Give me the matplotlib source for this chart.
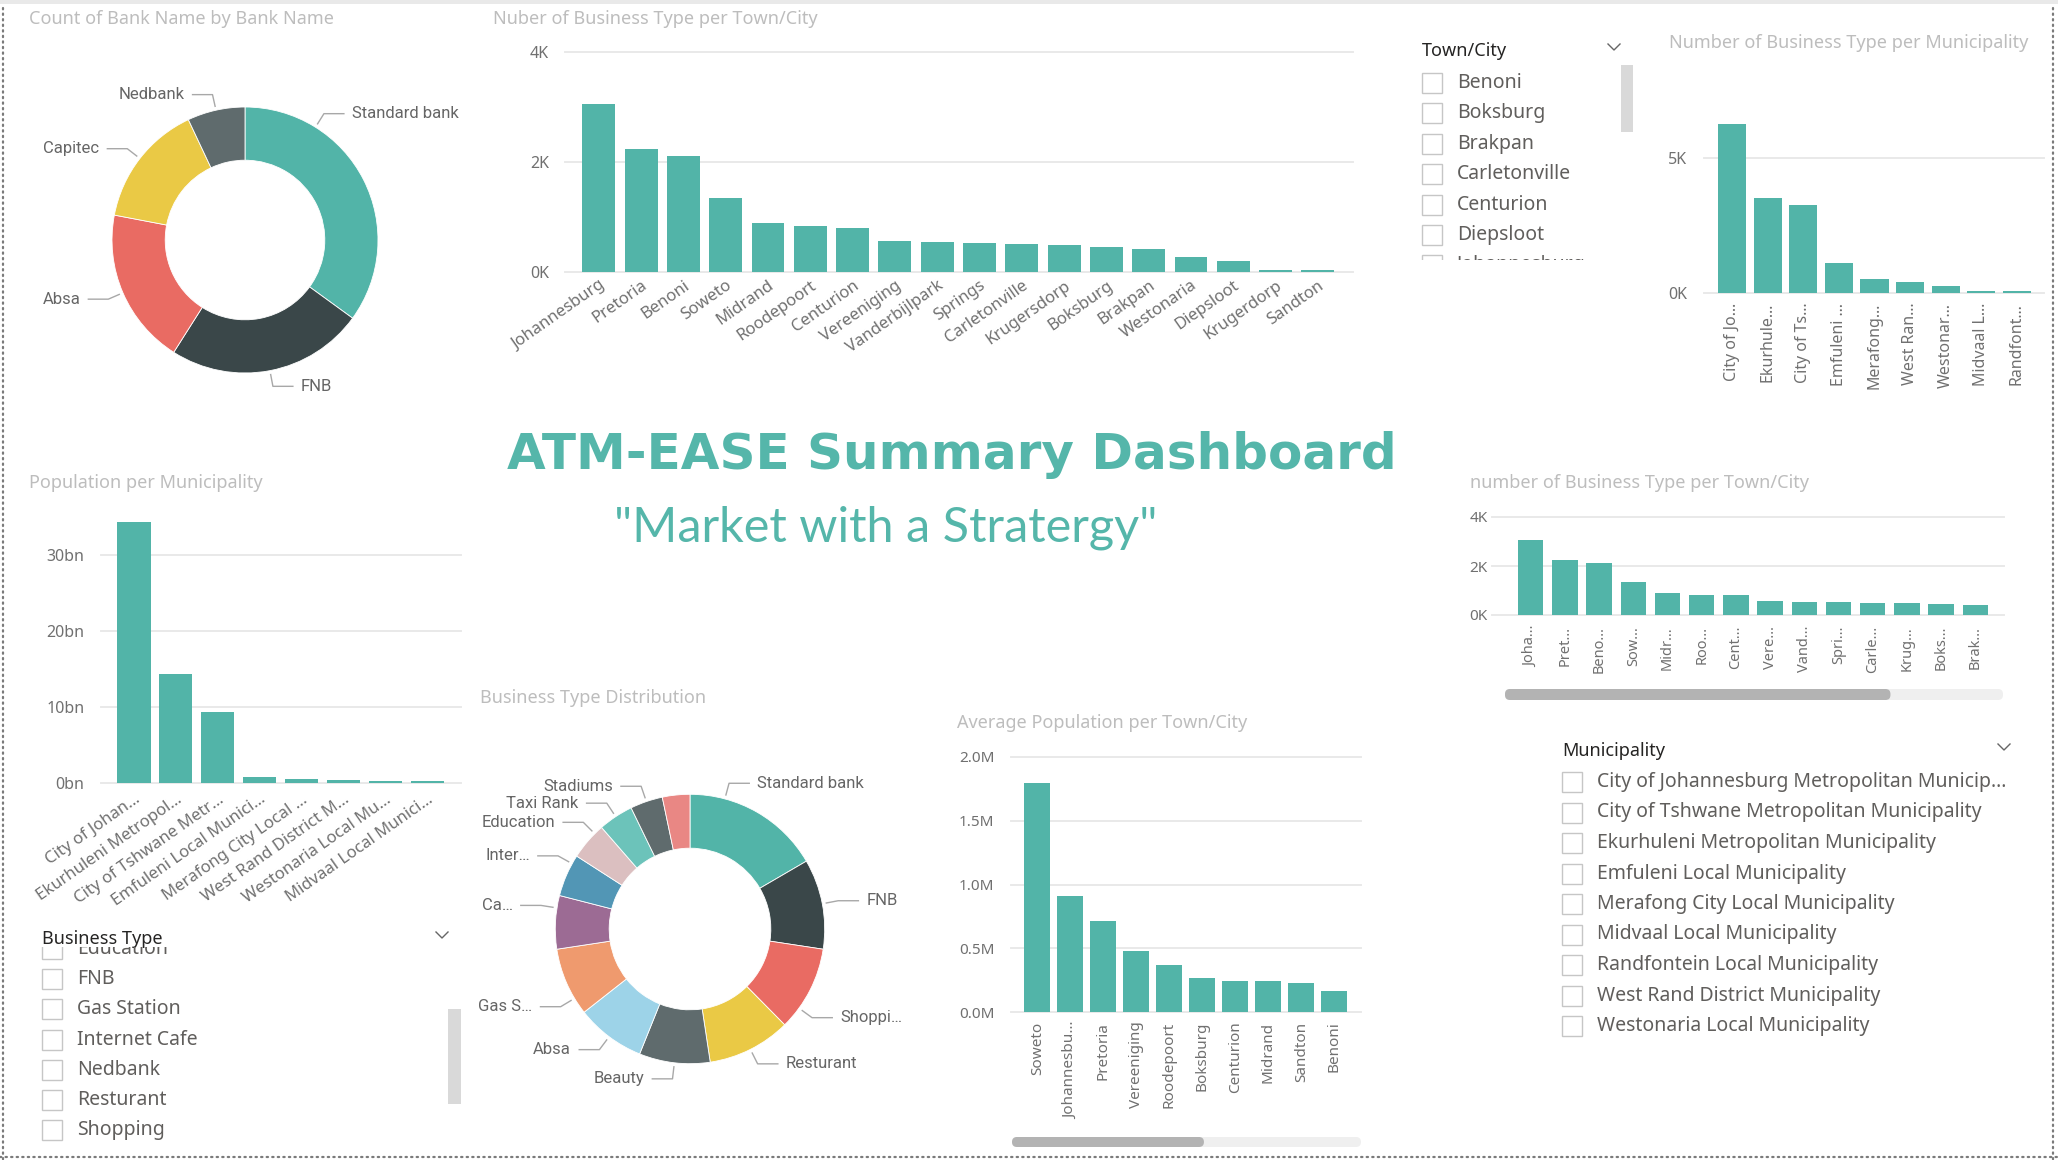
import matplotlib
matplotlib.use('Agg')
import matplotlib.pyplot as plt
import numpy as np
from matplotlib.patches import Rectangle, FancyBboxPatch
from matplotlib.ticker import FuncFormatter

# ------------------------------------------------------------------ data
bank_names = ['Standard bank', 'FNB', 'Absa', 'Capitec', 'Nedbank']
bank_counts = [35, 24, 19, 15, 7]

towns = ['Johannesburg', 'Pretoria', 'Benoni', 'Soweto', 'Midrand', 'Roodepoort',
         'Centurion', 'Vereeniging', 'Vanderbijlpark', 'Springs', 'Carletonville',
         'Krugersdorp', 'Boksburg', 'Brakpan', 'Westonaria', 'Diepsloot',
         'Krugerdorp', 'Sandton']
town_business_counts = [3060, 2240, 2110, 1350, 900, 835, 805, 570, 550, 532,
                        508, 485, 455, 425, 267, 206, 42, 42]
town_short_labels = ['Joha…', 'Pret…', 'Beno…', 'Sow…', 'Midr…', 'Roo…', 'Cent…',
                     'Vere…', 'Vand…', 'Spri…', 'Carle…', 'Krug…', 'Boks…', 'Brak…']

municipalities = ['City of Johannesburg Metropolitan Municipality',
                  'Ekurhuleni Metropolitan Municipality',
                  'City of Tshwane Metropolitan Municipality',
                  'Emfuleni Local Municipality',
                  'Merafong City Local Municipality',
                  'West Rand District Municipality',
                  'Westonaria Local Municipality',
                  'Midvaal Local Municipality',
                  'Randfontein Local Municipality']
muni_business_counts = [6260, 3520, 3260, 1120, 530, 410, 270, 75, 75]
muni_short_labels = ['City of Jo…', 'Ekurhule…', 'City of Ts…', 'Emfuleni …',
                     'Merafong…', 'West Ran…', 'Westonar…', 'Midvaal L…', 'Randfont…']

pop_munis = ['City of Johannesburg Metropolitan Municipality',
             'Ekurhuleni Metropolitan Municipality',
             'City of Tshwane Metropolitan Municipality',
             'Emfuleni Local Municipality',
             'Merafong City Local Municipality',
             'West Rand District Municipality',
             'Westonaria Local Municipality',
             'Midvaal Local Municipality']
pop_values_bn = [34.3, 14.4, 9.4, 0.83, 0.52, 0.35, 0.26, 0.26]
pop_short_labels = ['City of Johan…', 'Ekurhuleni Metropol…', 'City of Tshwane Metr…',
                    'Emfuleni Local Munici…', 'Merafong City Local …',
                    'West Rand District M…', 'Westonaria Local Mu…',
                    'Midvaal Local Munici…']

business_types = ['Standard bank', 'FNB', 'Shopping', 'Resturant', 'Beauty', 'Absa',
                  'Gas Station', 'Capitec', 'Internet Cafe', 'Education',
                  'Taxi Rank', 'Stadiums', 'Nedbank']
business_counts = [16.6, 10.8, 10.2, 10.0, 8.5, 8.3, 8.2, 6.4, 5.1, 4.5, 4.2, 3.9, 3.3]
business_labels = ['Standard bank', 'FNB', 'Shoppi…', 'Resturant', 'Beauty', 'Absa',
                   'Gas S…', 'Ca…', 'Inter…', 'Education', 'Taxi Rank', 'Stadiums', '']

avg_towns = ['Soweto', 'Johannesburg', 'Pretoria', 'Vereeniging', 'Roodepoort',
             'Boksburg', 'Centurion', 'Midrand', 'Sandton', 'Benoni']
avg_pop_m = [1.80, 0.91, 0.71, 0.48, 0.366, 0.264, 0.24, 0.24, 0.227, 0.162]
avg_short_labels = ['Soweto', 'Johannesbu…', 'Pretoria', 'Vereeniging', 'Roodepoort',
                    'Boksburg', 'Centurion', 'Midrand', 'Sandton', 'Benoni']

town_slicer_items = ['Benoni', 'Boksburg', 'Brakpan', 'Carletonville', 'Centurion',
                     'Diepsloot', 'Johannesburg']
business_slicer_items = ['Education', 'FNB', 'Gas Station', 'Internet Cafe', 'Nedbank',
                         'Resturant', 'Shopping']
muni_slicer_items = ['City of Johannesburg Metropolitan Municip…',
                     'City of Tshwane Metropolitan Municipality',
                     'Ekurhuleni Metropolitan Municipality',
                     'Emfuleni Local Municipality',
                     'Merafong City Local Municipality',
                     'Midvaal Local Municipality',
                     'Randfontein Local Municipality',
                     'West Rand District Municipality',
                     'Westonaria Local Municipality']

# ------------------------------------------------------------------ style
W, H, DPI = 2058, 1160, 100
TEAL = '#52B4A8'
GRID = '#E9E9E9'
TITLE_C = '#BDBDBD'
TICK_C = '#707070'
ITEM_C = '#605E5C'
bank_colors = ['#52B4A8', '#3A4749', '#E96B63', '#EAC945', '#5F6B6D']
business_colors = ['#52B4A8', '#3A4749', '#E96B63', '#EAC945', '#5F6B6D', '#9DD3E8',
                   '#EF9A6E', '#9C6B94', '#5296B5', '#DBBFC0', '#6CC3BA', '#5F6B6D',
                   '#E98784']
plt.rcParams['font.family'] = ['Noto Sans', 'DejaVu Sans']

fig = plt.figure(figsize=(W / DPI, H / DPI), dpi=DPI)
fig.patch.set_facecolor('white')


def px_axes(x0, y0, x1, y1):
    ax = fig.add_axes([x0 / W, 1 - y1 / H, (x1 - x0) / W, (y1 - y0) / H])
    ax.set_facecolor('none')
    return ax


bg = px_axes(0, 0, W, H)
bg.set_xlim(0, W)
bg.set_ylim(H, 0)
bg.axis('off')

# page decorations
bg.add_patch(Rectangle((0, 0), W, 4, color='#E9E9E9', lw=0))
dot = dict(color='#7A7A7A', lw=1.6, ls=(0, (0.6, 1.9)), dash_capstyle='round')
bg.plot([3, 3], [8, H], **dot)
bg.plot([2053, 2053], [8, H], **dot)
bg.plot([0, W], [1157, 1157], **dot)


def title(x, y, s):
    bg.text(x, y, s, fontsize=13, color=TITLE_C, ha='left', va='center')


def bar_chart(x0, x1, y_top, y_zero, px_per_unit, first_c, pitch, values, labels,
              ticks, fmt, rot, label_fs, tick_fs, xpad, ypad, width):
    ax = px_axes(x0, y_top, x1, y_zero)
    xs = np.arange(len(values))
    ax.bar(xs, values, width=width, color=TEAL, zorder=3, edgecolor='none')
    ax.set_xlim(-(first_c - x0) / pitch, (x1 - first_c) / pitch)
    ax.set_ylim(0, (y_zero - y_top) / px_per_unit)
    ax.set_yticks(ticks)
    ax.yaxis.set_major_formatter(FuncFormatter(fmt))
    ax.grid(axis='y', color=GRID, lw=1.4, zorder=0)
    for gl in ax.get_ygridlines():
        gl.set_clip_on(False)
    ax.set_axisbelow(True)
    for s in ax.spines.values():
        s.set_visible(False)
    ax.tick_params(axis='y', length=0, pad=ypad, labelsize=tick_fs, labelcolor=TICK_C)
    ax.tick_params(axis='x', length=0, pad=xpad, labelsize=label_fs, labelcolor=TICK_C)
    ax.set_xticks(xs)
    if rot == 90:
        ax.set_xticklabels(labels, rotation=90, ha='right', va='center',
                           rotation_mode='anchor')
    else:
        ax.set_xticklabels(labels, rotation=rot, ha='right', va='top',
                           rotation_mode='anchor')
    return ax


def donut(cx, cy, r_px, values, colors, labels, angle_override, fs=12):
    span = 2.4
    ax = px_axes(cx - r_px * span, cy - r_px * span, cx + r_px * span, cy + r_px * span)
    wedges, _ = ax.pie(values, colors=colors, startangle=90, counterclock=False,
                       radius=1, wedgeprops=dict(width=0.4, edgecolor='white',
                                                 linewidth=0.6))
    ax.set_xlim(-span, span)
    ax.set_ylim(-span, span)
    ax.axis('off')
    for w, lab in zip(wedges, labels):
        if not lab:
            continue
        a = angle_override.get(lab, (w.theta1 + w.theta2) / 2)
        c, s = np.cos(np.deg2rad(a)), np.sin(np.deg2rad(a))
        side = 1 if c >= 0 else -1
        p1 = (1.03 * c, 1.03 * s)
        p2 = (1.12 * c, 1.12 * s)
        p3 = (p2[0] + side * 0.15, p2[1])
        ax.plot([p1[0], p2[0], p3[0]], [p1[1], p2[1], p3[1]], color='#A8A8A8', lw=1.0)
        ax.text(p3[0] + side * 0.06, p3[1], lab, ha='left' if side > 0 else 'right',
                va='center', fontsize=fs, color='#666666', family=['Roboto', 'DejaVu Sans'])
    return ax


def chevron(x, y):
    bg.plot([x - 6, x, x + 6], [y - 3, y + 3, y - 3], color='#666666', lw=1.0)


def slicer(header, hx, hy, chev_x, items, box, y_first, dy, fs=14):
    bg.text(hx, hy, header, fontsize=13, color='#252423', ha='left', va='center')
    chevron(chev_x, hy - 4)
    sa = px_axes(*box)
    sa.set_xlim(box[0], box[2])
    sa.set_ylim(box[3], box[1])
    sa.axis('off')
    for i, it in enumerate(items):
        y = y_first + i * dy
        sa.add_patch(Rectangle((hx, y - 10), 20, 20, fill=False, ec='#C6C6C6', lw=1.0))
        sa.text(hx + 35, y, it, fontsize=fs, color=ITEM_C, ha='left', va='center',
                clip_on=True)


def hscroll(x, y, w, h, frac):
    bg.add_patch(FancyBboxPatch((x, y), w, h, boxstyle='round,pad=0,rounding_size=5',
                                fc='#EFEFEF', ec='none'))
    bg.add_patch(FancyBboxPatch((x, y), w * frac, h,
                                boxstyle='round,pad=0,rounding_size=5',
                                fc='#B3B3B3', ec='none'))


kfmt = lambda v, p: f'{v / 1000:.0f}K'
bnfmt = lambda v, p: f'{v:.0f}bn'
mfmt = lambda v, p: f'{v:.1f}M'

# ---- Count of Bank Name donut
title(29, 19, 'Count of Bank Name by Bank Name')
donut(245, 240, 133, bank_counts, bank_colors, bank_names, {'Standard bank': 58})

# ---- Top bar chart
title(493, 19, 'Nuber of Business Type per Town/City')
bar_chart(565, 1353, 44, 272, 220 / 4000, 598.8, 42.3, town_business_counts, towns,
          [0, 2000, 4000], kfmt, 35, 12, 11.5, 4, 11.5, 0.78)

# ---- Town/City slicer
slicer('Town/City', 1422, 51, 1614, town_slicer_items, (1415, 62, 1640, 260), 83, 30.4)
bg.add_patch(Rectangle((1621, 65), 12, 67, color='#D9D9D9', lw=0))

# ---- Business per municipality
title(1669, 43, 'Number of Business Type per Municipality')
bar_chart(1704, 2044, 100, 293, 135 / 5000, 1732.1, 35.6, muni_business_counts,
          muni_short_labels, [0, 5000], kfmt, 90, 11.5, 11.5, 7, 12, 0.79)

# ---- Dashboard headline
bg.text(952, 455, 'ATM-EASE Summary Dashboard', fontsize=36, fontweight='bold',
        family='DejaVu Sans', color='#55B6AA', ha='center', va='center')
bg.text(886, 528, '"Market with a Stratergy"', fontsize=35, fontweight='normal',
        family=['Lato', 'DejaVu Sans'], color='#55B6AA', ha='center', va='center')

# ---- Population per municipality
title(29, 483, 'Population per Municipality')
bar_chart(101, 461, 515, 783, 7.6, 134, 41.9, pop_values_bn, pop_short_labels,
          [0, 10, 20, 30], bnfmt, 35, 12, 11.5, 6, 12, 0.79)

# ---- Business Type slicer
slicer('Business Type', 42, 939, 442, business_slicer_items, (35, 947, 470, 1150),
       949, 30.2)
bg.add_patch(Rectangle((448, 1009), 13, 95, color='#D9D9D9', lw=0))

# ---- Business Type distribution donut
title(480, 698, 'Business Type Distribution')
donut(690, 929, 134.7, business_counts, business_colors, business_labels,
      {'Standard bank': 75, 'Shoppi…': -36, 'Gas S…': 211, 'Ca…': 171,
       'Inter…': 151, 'Education': 135})

# ---- Average population
title(957, 723, 'Average Population per Town/City')
bar_chart(1011, 1361, 745, 1012, 127.5, 1037.3, 33.0, avg_pop_m, avg_short_labels,
          [0, 0.5, 1.0, 1.5, 2.0], mfmt, 90, 11, 11, 7, 12, 0.78)
hscroll(1012, 1137, 349, 10, 0.55)

# ---- number of Business Type per Town/City (scrolled)
title(1470, 483, 'number of Business Type per Town/City')
bar_chart(1492, 2004, 510, 615, 98 / 4000, 1530.7, 34.2, town_business_counts[:14],
          town_short_labels, [0, 2000, 4000], kfmt, 90, 10.5, 11, 8, 3, 0.74)
hscroll(1505, 689, 498, 11, 0.774)

# ---- Municipality slicer
slicer('Municipality', 1562, 751, 2004, muni_slicer_items, (1555, 765, 2045, 1045),
       782, 30.5)

fig.savefig('out.png', dpi=DPI)
